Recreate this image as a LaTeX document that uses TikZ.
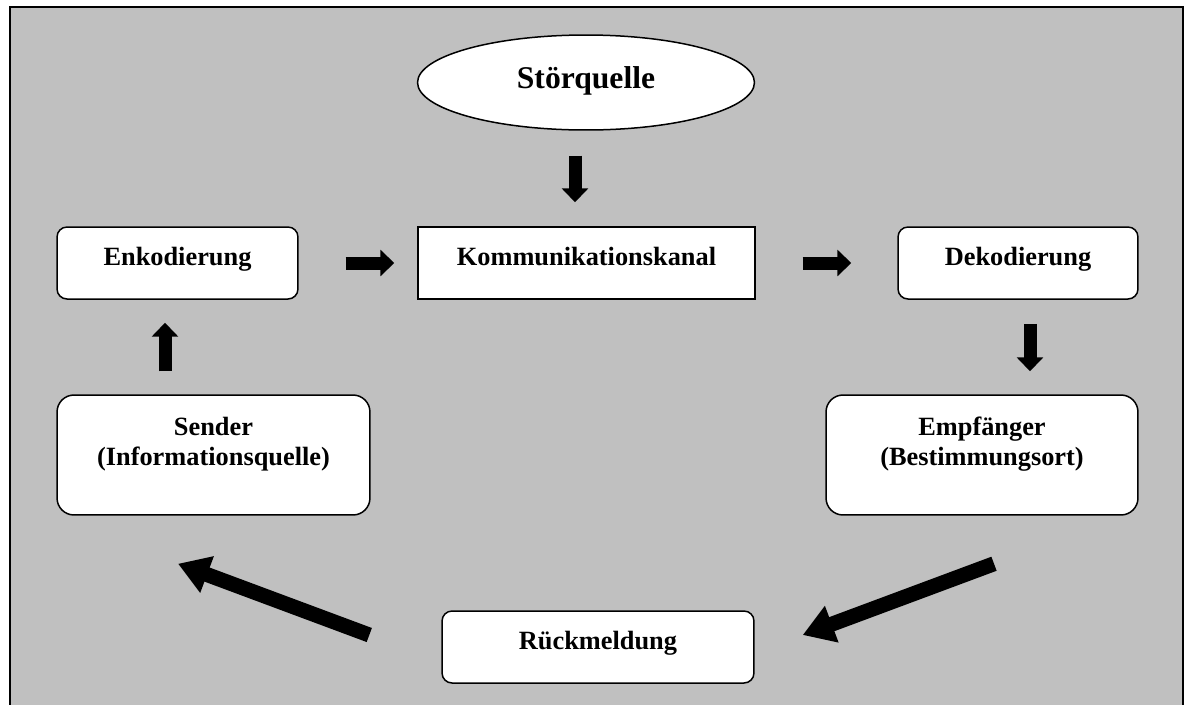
\documentclass[tikz,border=0pt]{standalone}
\usepackage{fontspec}
\setmainfont{Liberation Serif}
\usetikzlibrary{shapes.geometric, arrows.meta, calc}
\definecolor{bggray}{RGB}{192,192,192}
\tikzset{
  rbox/.style={rectangle, rounded corners=0.2cm, draw=black, line width=0.03cm,
               fill=white, text width=4.6cm, align=center, inner sep=0pt,
               minimum height=1.44cm, text height=0.36cm, text depth=0.25cm,
               font=\fontsize{15pt}{17.5pt}\selectfont\bfseries},
  kbox/.style={rbox, sharp corners, text width=6cm},
  tbox/.style={rbox, rounded corners=0.34cm, text width=5.6cm,
               minimum height=2.4cm, text depth=1.16cm},
  oval/.style={ellipse, draw=black, line width=0.03cm, fill=white,
               text width=4cm, align=center, inner sep=0pt,
               minimum width=6.74cm, minimum height=1.9cm,
               text height=0.44cm, text depth=0.22cm,
               font=\fontsize{18pt}{21pt}\selectfont\bfseries},
  barr/.style={line width=0.26cm, -{Triangle[width=0.52cm,length=0.28cm]}},
  farr/.style={line width=0.3cm, -{Triangle[width=0.74cm,length=0.62cm]}},
}
\begin{document}
\begin{tikzpicture}[x=0.02cm, y=-0.02cm]
  \useasboundingbox (0,0) rectangle (1187,704);
  % background frame
  \fill[bggray] (10,7) rectangle (1183,712);
  \draw[line width=0.04cm] (10,712) -- (10,7) -- (1183,7) -- (1183,712);

  \node[oval] (stoer) at (586,82.5) {Störquelle};
  \node[rbox, minimum width=4.82cm] (enc) at (177.5,263) {Enkodierung};
  \node[kbox, minimum width=6.74cm] (kom) at (586.5,263) {Kommunikationskanal};
  \node[rbox, minimum width=4.8cm]  (dek) at (1018,263) {Dekodierung};
  \node[tbox, minimum width=6.26cm] (snd) at (213.5,455) {Sender\\(Informationsquelle)};
  \node[tbox, minimum width=6.24cm] (emp) at (982,455) {Empfänger\\(Bestimmungsort)};
  \node[rbox, minimum width=6.24cm] (rck) at (598,647) {Rückmeldung};

  % block arrows
  \draw[barr] ($(stoer.south)+(-11,25)$) -- ($(kom.north)+(-11.5,-24)$);
  \draw[barr] ($(enc.east)+(47,0)$) -- ($(kom.west)+(-23,0)$);
  \draw[barr] ($(kom.east)+(47,0)$) -- ($(dek.west)+(-46,0)$);
  \draw[barr] ($(dek.south)+(12,24)$) -- ($(emp.north)+(48,-23)$);
  \draw[farr] ($(emp.south)+(12,48)$) -- ($(rck.east)+(48,-12)$);
  \draw[farr] ($(rck.west)+(-72,-12)$) -- ($(snd.south)+(-35.5,48)$);
  \draw[barr] ($(snd.north)+(-48.5,-23)$) -- ($(enc.south)+(-12.5,23)$);
\end{tikzpicture}
\end{document}
